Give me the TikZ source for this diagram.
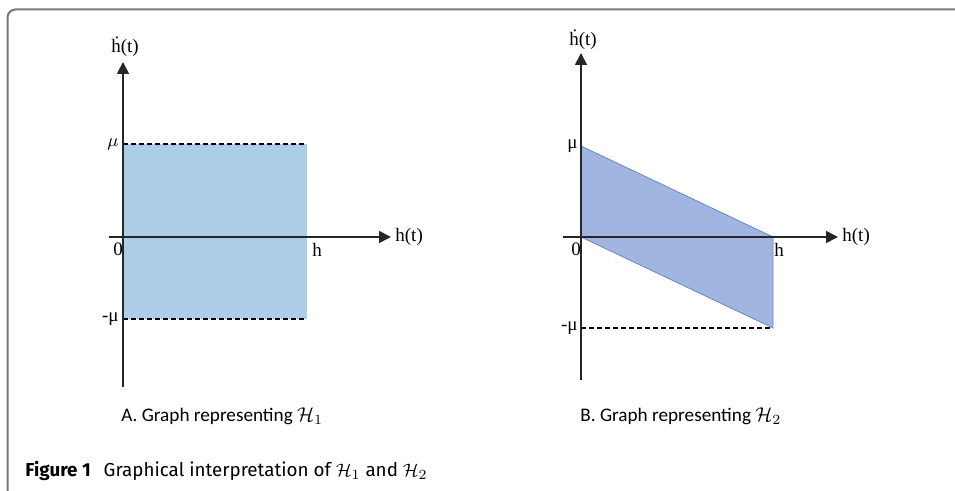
\documentclass[tikz,border=0pt]{standalone}
\usepackage{fontspec}
\setmainfont{Liberation Serif}
\newfontfamily\subfont{Carlito}
\newfontfamily\capfont{Fira Sans}
\usetikzlibrary{arrows.meta}
\definecolor{boxblue}{RGB}{174,205,233}
\definecolor{parblue}{RGB}{160,182,224}
\definecolor{paredge}{RGB}{105,135,200}
\definecolor{framegray}{RGB}{120,120,120}
\tikzset{
  axis/.style={draw=black!85, line width=0.9pt, -{Triangle[length=6pt,width=6pt]}},
  level/.style={line width=0.55pt, dash pattern=on 2.5pt off 1.5pt},
  lbl/.style={font=\fontsize{9.5}{11}\selectfont, inner sep=1pt},
  subcap/.style={font=\subfont\fontsize{9.6}{11}\selectfont, inner sep=0pt, anchor=base west},
}
\begin{document}
\begin{tikzpicture}[x=0.5pt,y=-0.5pt]
\useasboundingbox (0,0) rectangle (955,491);
\draw[framegray, line width=1pt, rounded corners=4pt] (955,9.5) -- (7.5,9.5) -- (7.5,491);

% A: box between mu and -mu
\coordinate (botA) at (123,387);
\coordinate (topA) at (123,62);
\coordinate (leftA) at (109,237);
\coordinate (rightA) at (391,237);
\coordinate (muA) at (123,144);
\coordinate (mmA) at (123,319);
\coordinate (hmuA) at (307,144);
\coordinate (hmmA) at (307,319);
\fill[boxblue] (muA) rectangle (hmmA);
\draw[level] (muA) -- (hmuA);
\draw[level] (mmA) -- (hmmA);
\draw[axis] (botA) -- (topA);
\draw[axis] (leftA) -- (rightA);
\node[lbl] (ydA) at (125,47) {ḣ(t)};
\node[lbl, anchor=west] (htA) at (393,237) {h(t)};
\node[lbl, anchor=east] (muLA) at (121,144) {$\mu$};
\node[lbl, anchor=east] (mmLA) at (121,319) {-μ};
\node[lbl] (zeroA) at (118,249) {0};
\node[lbl] (hA) at (317,250) {h};
\node[subcap] (capA) at (121,422) {A. Graph representing $\mathcal{H}_1$};

% B: band between the two slanted lines
\coordinate (botB) at (581,380);
\coordinate (topB) at (581,53);
\coordinate (leftB) at (563,237);
\coordinate (rightB) at (838,237);
\coordinate (oB) at (581,237);
\coordinate (muB) at (581,146);
\coordinate (mmB) at (581,328);
\coordinate (hB) at (773,237);
\coordinate (hmmB) at (773,328);
\filldraw[fill=parblue, draw=paredge, line width=0.4pt] (muB) -- (hB) -- (hmmB) -- (oB) -- cycle;
\draw[level] (mmB) -- (hmmB);
\draw[axis] (botB) -- (topB);
\draw[axis] (leftB) -- (rightB);
\node[lbl] (ydB) at (583,40) {ḣ(t)};
\node[lbl, anchor=west] (htB) at (840,237) {h(t)};
\node[lbl, anchor=east] (muLB) at (580,146) {μ};
\node[lbl, anchor=east] (mmLB) at (580,328) {-μ};
\node[lbl] (zeroB) at (576,249) {0};
\node[lbl] (hLB) at (779,250) {h};
\node[subcap] (capB) at (580,422) {B. Graph representing $\mathcal{H}_2$};

\node[font=\capfont\fontsize{9.4}{11}\selectfont, inner sep=0pt, anchor=base west] (fig) at (25,477)
  {\textbf{Figure 1}\hspace{4pt} Graphical interpretation of $\mathcal{H}_1$ and $\mathcal{H}_2$};
\end{tikzpicture}
\end{document}
